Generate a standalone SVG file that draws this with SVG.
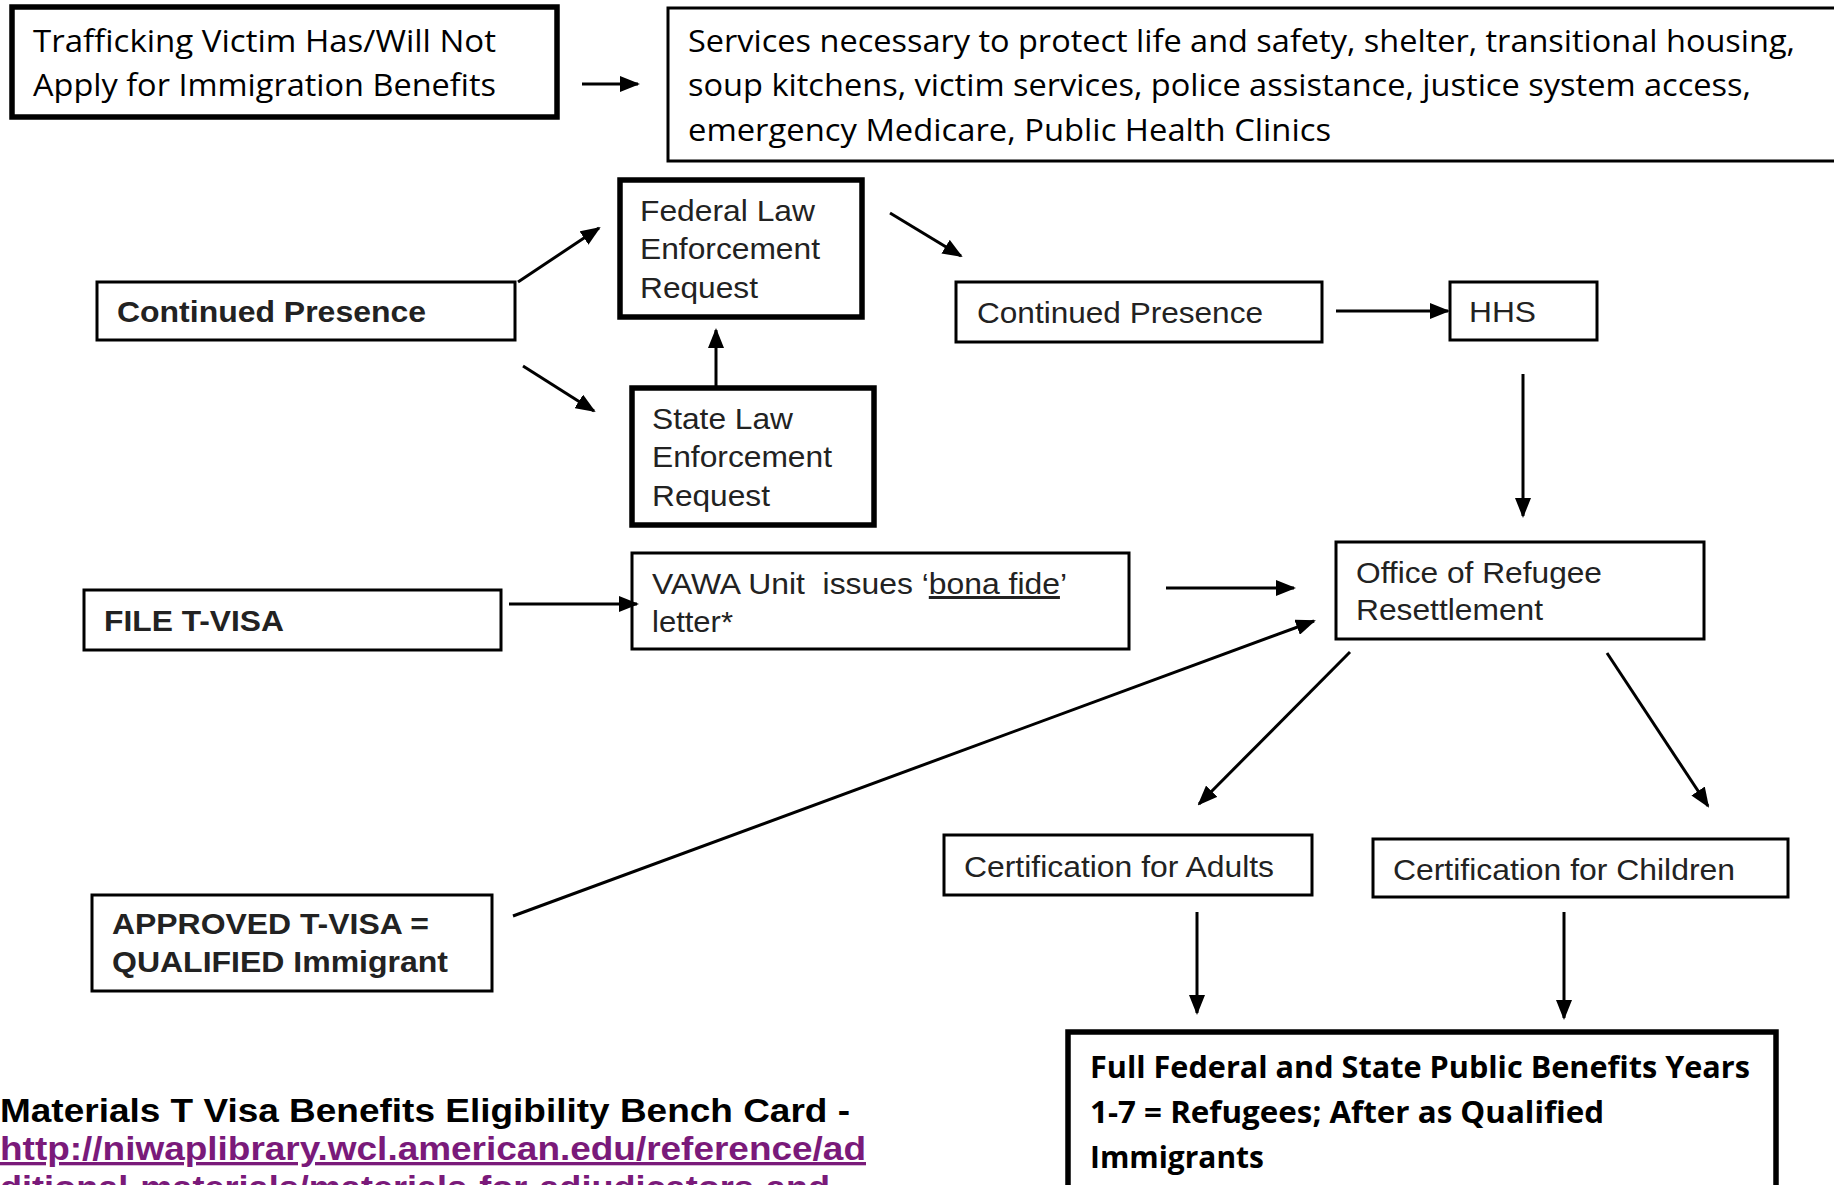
<svg xmlns="http://www.w3.org/2000/svg" width="1834" height="1185" viewBox="0 0 1834 1185">
<style>
.box{fill:#fff;stroke:#000;stroke-width:3}
.thick{fill:#fff;stroke:#000;stroke-width:5.5}
.cal{font-family:"Open Sans","Noto Sans",sans-serif;font-size:31px;fill:#000}
.calb{font-family:"Open Sans","Noto Sans",sans-serif;font-size:31px;font-weight:bold;fill:#000}
.ar{font-family:"Liberation Sans",Arial,sans-serif;font-size:30px;fill:#222}
.arb{font-family:"Liberation Sans",Arial,sans-serif;font-size:30px;font-weight:bold;fill:#222}
.foot{font-family:"Liberation Sans",Arial,sans-serif;font-size:33px;font-weight:bold;fill:#000}
.link{font-family:"Liberation Sans",Arial,sans-serif;font-size:33px;font-weight:bold;fill:#7a1a7a;text-decoration:underline}
.conn line{stroke:#000;stroke-width:3;marker-end:url(#ah)}
</style>
<defs>
<marker id="ah" markerUnits="userSpaceOnUse" markerWidth="20" markerHeight="16" refX="18" refY="8" orient="auto">
<path d="M0,0 L20,8 L0,16 z" fill="#000"/>
</marker>
</defs>
<rect width="1834" height="1185" fill="#fff"/>

<g id="trafficking">
<rect class="thick" x="12" y="7" width="545" height="110"/>
<text class="cal" x="33" y="52" textLength="463" lengthAdjust="spacingAndGlyphs">Trafficking Victim Has/Will Not</text>
<text class="cal" x="33" y="96" textLength="463" lengthAdjust="spacingAndGlyphs">Apply for Immigration Benefits</text>
</g>

<g id="services">
<rect class="box" x="668" y="8" width="1190" height="153"/>
<text class="cal" x="688" y="52" textLength="1107" lengthAdjust="spacingAndGlyphs">Services necessary to protect life and safety, shelter, transitional housing,</text>
<text class="cal" x="688" y="96" textLength="1063" lengthAdjust="spacingAndGlyphs">soup kitchens, victim services, police assistance, justice system access,</text>
<text class="cal" x="688" y="141" textLength="643" lengthAdjust="spacingAndGlyphs">emergency Medicare, Public Health Clinics</text>
</g>

<g id="continued-presence-1">
<rect class="box" x="97" y="282" width="418" height="58"/>
<text class="arb" x="117" y="322" textLength="309" lengthAdjust="spacingAndGlyphs">Continued Presence</text>
</g>

<g id="federal">
<rect class="thick" x="620" y="180" width="242" height="137"/>
<text class="ar" x="640" y="221" textLength="175" lengthAdjust="spacingAndGlyphs">Federal Law</text>
<text class="ar" x="640" y="259" textLength="180" lengthAdjust="spacingAndGlyphs">Enforcement</text>
<text class="ar" x="640" y="298" textLength="118" lengthAdjust="spacingAndGlyphs">Request</text>
</g>

<g id="state">
<rect class="thick" x="632" y="388" width="242" height="137"/>
<text class="ar" x="652" y="429" textLength="141" lengthAdjust="spacingAndGlyphs">State Law</text>
<text class="ar" x="652" y="467" textLength="180" lengthAdjust="spacingAndGlyphs">Enforcement</text>
<text class="ar" x="652" y="506" textLength="118" lengthAdjust="spacingAndGlyphs">Request</text>
</g>

<g id="continued-presence-2">
<rect class="box" x="956" y="282" width="366" height="60"/>
<text class="ar" x="977" y="323" textLength="286" lengthAdjust="spacingAndGlyphs">Continued Presence</text>
</g>

<g id="hhs">
<rect class="box" x="1450" y="282" width="147" height="58"/>
<text class="ar" x="1469" y="322" textLength="67" lengthAdjust="spacingAndGlyphs">HHS</text>
</g>

<g id="orr">
<rect class="box" x="1336" y="542" width="368" height="97"/>
<text class="ar" x="1356" y="583" textLength="246" lengthAdjust="spacingAndGlyphs">Office of Refugee</text>
<text class="ar" x="1356" y="620" textLength="187" lengthAdjust="spacingAndGlyphs">Resettlement</text>
</g>

<g id="file-tvisa">
<rect class="box" x="84" y="590" width="417" height="60"/>
<text class="arb" x="104" y="631" textLength="180" lengthAdjust="spacingAndGlyphs">FILE T-VISA</text>
</g>

<g id="vawa">
<rect class="box" x="632" y="553" width="497" height="96"/>
<text class="ar" x="652" y="594" textLength="415" lengthAdjust="spacingAndGlyphs" xml:space="preserve">VAWA Unit  issues ‘<tspan text-decoration="underline">bona fide</tspan>’</text>
<text class="ar" x="652" y="632" textLength="81" lengthAdjust="spacingAndGlyphs">letter*</text>
</g>

<g id="approved">
<rect class="box" x="92" y="895" width="400" height="96"/>
<text class="arb" x="112" y="934" textLength="317" lengthAdjust="spacingAndGlyphs">APPROVED T-VISA =</text>
<text class="arb" x="112" y="972" textLength="336" lengthAdjust="spacingAndGlyphs">QUALIFIED Immigrant</text>
</g>

<g id="cert-adults">
<rect class="box" x="944" y="835" width="368" height="60"/>
<text class="ar" x="964" y="877" textLength="310" lengthAdjust="spacingAndGlyphs">Certification for Adults</text>
</g>

<g id="cert-children">
<rect class="box" x="1373" y="839" width="415" height="58"/>
<text class="ar" x="1393" y="880" textLength="342" lengthAdjust="spacingAndGlyphs">Certification for Children</text>
</g>

<g id="full-benefits">
<rect class="thick" x="1068" y="1032" width="708" height="170"/>
<text class="calb" x="1090" y="1078" textLength="660" lengthAdjust="spacingAndGlyphs">Full Federal and State Public Benefits Years</text>
<text class="calb" x="1090" y="1123" textLength="514" lengthAdjust="spacingAndGlyphs">1-7 = Refugees; After as Qualified</text>
<text class="calb" x="1090" y="1168" textLength="174" lengthAdjust="spacingAndGlyphs">Immigrants</text>
</g>

<g id="footnote">
<text class="foot" x="0" y="1122" textLength="850" lengthAdjust="spacingAndGlyphs">Materials T Visa Benefits Eligibility Bench Card -</text>
<text class="link" x="0" y="1160" textLength="866" lengthAdjust="spacingAndGlyphs">http://niwaplibrary.wcl.american.edu/reference/ad</text>
<text class="link" x="0" y="1199" textLength="842" lengthAdjust="spacingAndGlyphs">ditional-materials/materials-for-adjudicators-and-</text>
</g>

<g id="connectors" class="conn">
<line x1="582" y1="84" x2="638" y2="84"/>
<line x1="518" y1="282" x2="599" y2="228"/>
<line x1="523" y1="366" x2="594" y2="411"/>
<line x1="716" y1="386" x2="716" y2="330"/>
<line x1="890" y1="213" x2="961" y2="256"/>
<line x1="1336" y1="311" x2="1448" y2="311"/>
<line x1="1523" y1="374" x2="1523" y2="516"/>
<line x1="509" y1="604" x2="637" y2="604"/>
<line x1="1166" y1="588" x2="1294" y2="588"/>
<line x1="513" y1="916" x2="1314" y2="621"/>
<line x1="1350" y1="652" x2="1199" y2="804"/>
<line x1="1607" y1="653" x2="1708" y2="806"/>
<line x1="1197" y1="912" x2="1197" y2="1013"/>
<line x1="1564" y1="912" x2="1564" y2="1018"/>
</g>
</svg>
